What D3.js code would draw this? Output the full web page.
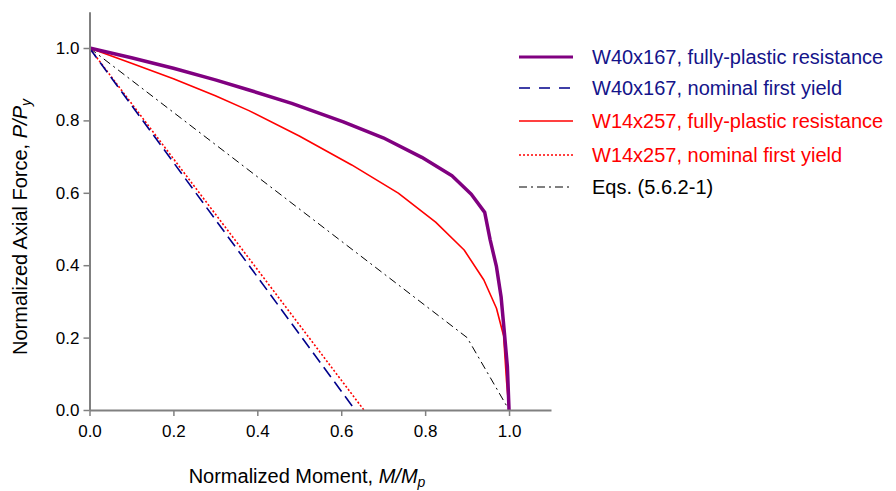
<!DOCTYPE html>
<html>
<head>
<meta charset="utf-8">
<script src="https://cdn.jsdelivr.net/npm/d3@7"></script>
<style>
  html, body { margin: 0; padding: 0; background: #fff; }
  svg { display: block; font-family: Arial, "Liberation Sans", sans-serif; }
</style>
</head>
<body>
<svg id="chart" width="896" height="491"></svg>
<script>
// P-M interaction curves: normalized moment M/Mp (x) vs normalized axial force P/Py (y)
const w40PlasticM = [0, 0.1, 0.2, 0.3, 0.38, 0.482, 0.605, 0.7, 0.792, 0.864, 0.910, 0.942, 0.955, 0.970, 0.981, 0.989, 0.996, 1.0];
const w40PlasticP = [1.0, 0.973, 0.944, 0.912, 0.884, 0.847, 0.796, 0.752, 0.698, 0.647, 0.596, 0.546, 0.470, 0.396, 0.313, 0.212, 0.120, 0.0];

const w40YieldM = [0, 0.633];
const w40YieldP = [1.0, 0.0];

const w14PlasticM = [0, 0.1, 0.2, 0.3, 0.38, 0.5, 0.625, 0.736, 0.825, 0.893, 0.940, 0.970, 0.987, 0.994, 1.0];
const w14PlasticP = [1.0, 0.958, 0.915, 0.868, 0.827, 0.757, 0.677, 0.599, 0.519, 0.442, 0.359, 0.281, 0.205, 0.080, 0.0];

const w14YieldM = [0, 0.654];
const w14YieldP = [1.0, 0.0];

const eqM = [0, 0.9, 1.0];
const eqP = [1.0, 0.2, 0.0];

const xTicks = [0, 0.2, 0.4, 0.6, 0.8, 1.0];
const yTicks = [0, 0.2, 0.4, 0.6, 0.8, 1.0];

const seriesNames = [
  "W40x167, fully-plastic resistance",
  "W40x167, nominal first yield",
  "W14x257, fully-plastic resistance",
  "W14x257, nominal first yield",
  "Eqs. (5.6.2-1)"
];

const svg = d3.select("#chart");

const x = d3.scaleLinear().domain([0, 1.1]).range([89.5, 551]);
const y = d3.scaleLinear().domain([0, 1.1]).range([410, 11.8]);

const zip = (xs, ys) => xs.map((v, i) => [v, ys[i]]);

const series = [
  { name: seriesNames[0], data: zip(w40PlasticM, w40PlasticP), color: "#800080", width: 3.5, dash: null, legendDash: null, text: "#14148a" },
  { name: seriesNames[1], data: zip(w40YieldM, w40YieldP), color: "#00008b", width: 1.6, dash: "12,6", legendDash: "11,9", text: "#14148a" },
  { name: seriesNames[2], data: zip(w14PlasticM, w14PlasticP), color: "#ff0000", width: 1.6, dash: null, legendDash: null, text: "#ff0000" },
  { name: seriesNames[3], data: zip(w14YieldM, w14YieldP), color: "#ff0000", width: 1.6, dash: "2,2", legendDash: "2,2", text: "#ff0000" },
  { name: seriesNames[4], data: zip(eqM, eqP), color: "#000000", width: 1, dash: "8,4,2,4", legendDash: "8,4,2,4", text: "#000000" }
];

const line = d3.line().x(d => x(d[0])).y(d => y(d[1]));

// draw order: light lines first, the thick plastic curve on top
const drawOrder = [4, 3, 1, 2, 0];
svg.append("g").selectAll("path")
  .data(drawOrder.map(i => series[i]))
  .join("path")
  .attr("d", d => line(d.data))
  .attr("fill", "none")
  .attr("stroke", d => d.color)
  .attr("stroke-width", d => d.width)
  .attr("stroke-dasharray", d => d.dash)
  .attr("stroke-linejoin", "round");

// axes
const axisColor = "#808080";
const xAxis = svg.append("g")
  .attr("transform", `translate(0,${y(0)})`)
  .call(d3.axisBottom(x).tickValues(xTicks).tickFormat(d3.format(".1f")).tickSize(6).tickPadding(9).tickSizeOuter(0));
const yAxis = svg.append("g")
  .attr("transform", `translate(${x(0)},0)`)
  .call(d3.axisLeft(y).tickValues(yTicks).tickFormat(d3.format(".1f")).tickSize(6).tickPadding(4).tickSizeOuter(0));

[xAxis, yAxis].forEach(g => {
  g.select(".domain").attr("stroke", axisColor).attr("stroke-width", 2);
  g.selectAll(".tick line").attr("stroke", axisColor).attr("stroke-width", 1.5);
  g.selectAll(".tick text").attr("fill", "#000").attr("font-size", 17)
    .attr("font-family", "Arial, 'Liberation Sans', sans-serif");
});

// axis titles
const xTitle = svg.append("text")
  .attr("x", 307).attr("y", 483)
  .attr("text-anchor", "middle")
  .attr("font-size", 20).attr("fill", "#000");
xTitle.append("tspan").text("Normalized Moment, ");
xTitle.append("tspan").attr("font-style", "italic").text("M/M");
xTitle.append("tspan").attr("font-style", "italic").attr("font-size", 14).attr("dy", 4).text("p");

const yTitle = svg.append("text")
  .attr("transform", "translate(27,227) rotate(-90)")
  .attr("text-anchor", "middle")
  .attr("font-size", 20).attr("fill", "#000");
yTitle.append("tspan").text("Normalized Axial Force, ");
yTitle.append("tspan").attr("font-style", "italic").text("P/P");
yTitle.append("tspan").attr("font-style", "italic").attr("font-size", 14).attr("dy", 4).text("y");

// legend
const legendRows = [57, 88, 121, 155, 187];
const legend = svg.append("g").selectAll("g")
  .data(series)
  .join("g")
  .attr("transform", (d, i) => `translate(0,${legendRows[i]})`);

legend.append("line")
  .attr("x1", 519).attr("x2", 573)
  .attr("y1", 0).attr("y2", 0)
  .attr("stroke", d => d.color)
  .attr("stroke-width", d => Math.min(d.width, 3))
  .attr("stroke-dasharray", d => d.legendDash);

legend.append("text")
  .attr("x", 592).attr("y", 0).attr("dy", "0.35em")
  .attr("font-size", 20)
  .attr("fill", d => d.text)
  .text(d => d.name);
</script>
</body>
</html>
